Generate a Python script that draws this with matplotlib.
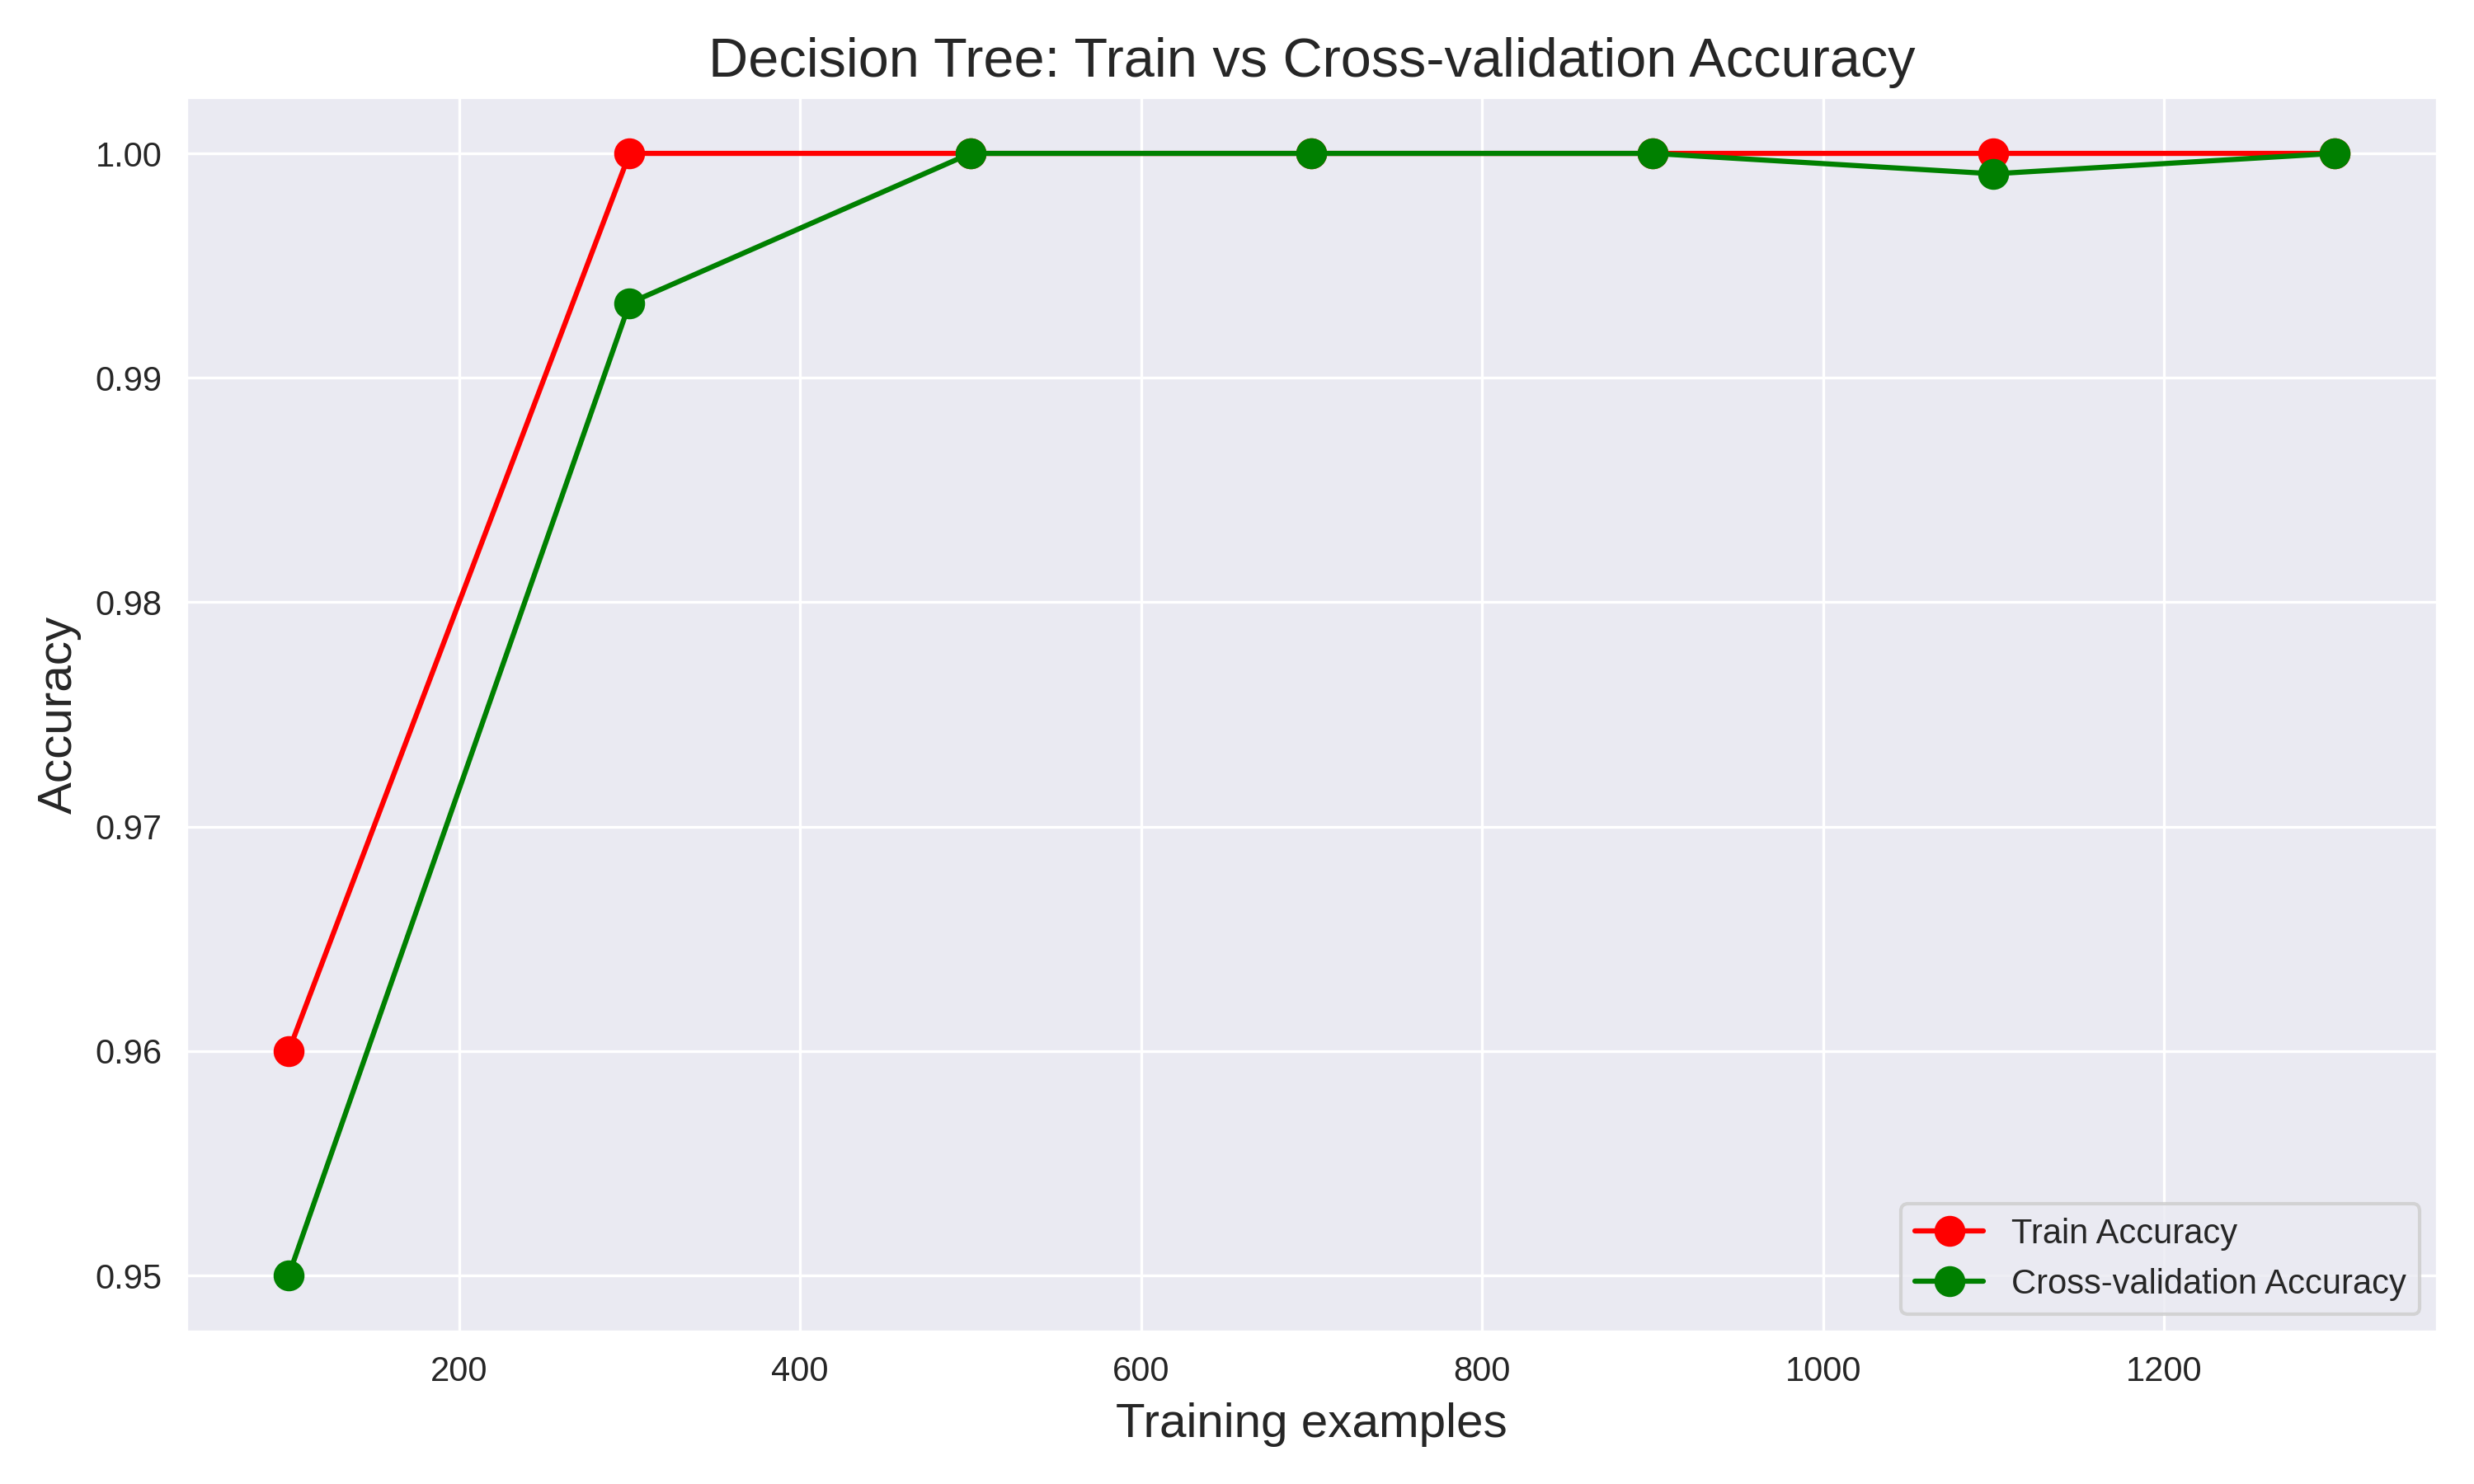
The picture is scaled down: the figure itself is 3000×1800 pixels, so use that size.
import matplotlib
matplotlib.use("Agg")
import matplotlib.pyplot as plt
import seaborn as sns

train_sizes = [100, 300, 500, 700, 900, 1100, 1300]
train_acc = [0.96, 1.0, 1.0, 1.0, 1.0, 1.0, 1.0]
cv_acc = [0.95, 0.99333, 1.0, 1.0, 1.0, 0.99909, 1.0]

sns.set_style("darkgrid")
plt.rcParams['font.family'] = ['Liberation Sans', 'DejaVu Sans']

fig, ax = plt.subplots(figsize=(10, 6), dpi=300)
ax.plot(train_sizes, train_acc, 'o-', color='red', markersize=8, label='Train Accuracy')
ax.plot(train_sizes, cv_acc, 'o-', color='green', markersize=8, label='Cross-validation Accuracy')
ax.set_title('Decision Tree: Train vs Cross-validation Accuracy', fontsize=16)
ax.set_xlabel('Training examples', fontsize=14)
ax.set_ylabel('Accuracy', fontsize=14)
ax.legend(loc='lower right')
fig.tight_layout()
fig.savefig('out.png', dpi=300)
